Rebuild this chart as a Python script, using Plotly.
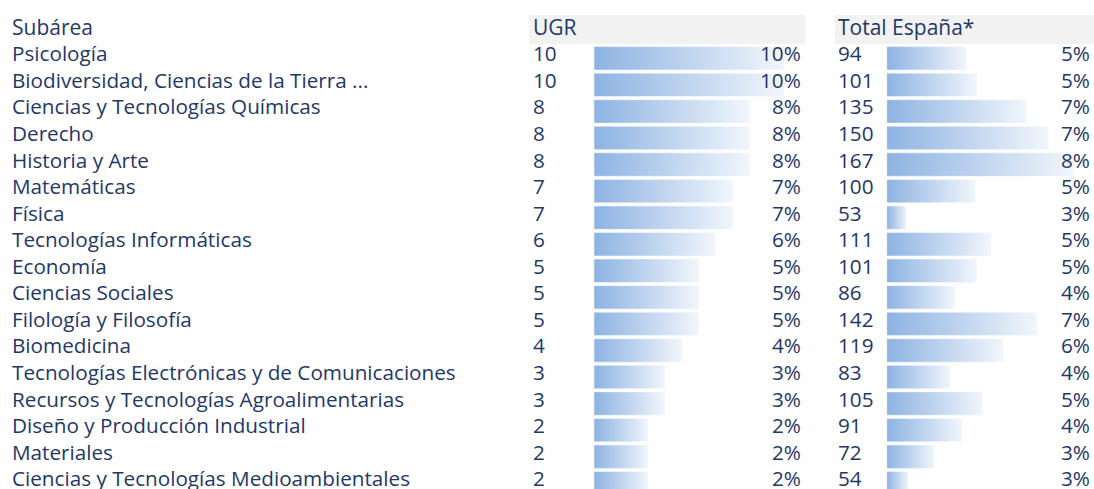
import plotly.graph_objects as go

subareas = [
    "Psicología", "Biodiversidad, Ciencias de la Tierra ...", "Ciencias y Tecnologías Químicas",
    "Derecho", "Historia y Arte", "Matemáticas", "Física", "Tecnologías Informáticas",
    "Economía", "Ciencias Sociales", "Filología y Filosofía", "Biomedicina",
    "Tecnologías Electrónicas y de Comunicaciones", "Recursos y Tecnologías Agroalimentarias",
    "Diseño y Producción Industrial", "Materiales", "Ciencias y Tecnologías Medioambientales",
]
ugr_n = [10, 10, 8, 8, 8, 7, 7, 6, 5, 5, 5, 4, 3, 3, 2, 2, 2]
ugr_pct = [10, 10, 8, 8, 8, 7, 7, 6, 5, 5, 5, 4, 3, 3, 2, 2, 2]
esp_n = [94, 101, 135, 150, 167, 100, 53, 111, 101, 86, 142, 119, 83, 105, 91, 72, 54]
esp_pct = [5, 5, 7, 7, 8, 5, 3, 5, 5, 4, 7, 6, 4, 5, 4, 3, 3]

W, H = 1094, 489
TXT = "#1f3868"
FONT = "Open Sans"
FS = 20.7
GRAD = [[0, "#8db3e2"], [1, "#f2f6fc"]]
UGR_MIN, UGR_PX = -1.18, 17.0      # data-bar scale of each column
ESP_MIN, ESP_PX = 39.3, 1.463
HALF = 0.44                        # half bar height, in rows

fig = go.Figure()

def add_bars(values, lo, xa):
    for i, v in enumerate(values):
        fig.add_trace(go.Scatter(
            x=[lo, v, v, lo, lo], y=[i - HALF, i - HALF, i + HALF, i + HALF, i - HALF],
            xaxis=xa, yaxis="y", mode="lines", line=dict(width=0.6, color="rgba(255,255,255,0.8)"),
            fill="toself", fillgradient=dict(type="horizontal", colorscale=GRAD),
            hoverinfo="skip", showlegend=False))

add_bars(ugr_n, UGR_MIN, "x")
add_bars(esp_n, ESP_MIN, "x2")

ann = []
def txt(x_px, y, s, anchor="left", size=FS, yref="y", shift=5):
    ann.append(dict(x=x_px / W, xref="paper", y=y, yref=yref, text=s, showarrow=False,
                    xanchor=anchor, yanchor="middle", yshift=shift,
                    font=dict(family=FONT, size=size, color=TXT)))

for i, name in enumerate(subareas):
    txt(10, i, name)
    txt(531, i, str(ugr_n[i]))
    txt(803, i, f"{ugr_pct[i]}%", "right")
    txt(836, i, str(esp_n[i]))
    txt(1092, i, f"{esp_pct[i]}%", "right")

head_y = 1 - 29.5 / H
txt(10, head_y, "Subárea", size=21, yref="paper", shift=2)
txt(531, head_y, "UGR", size=21, yref="paper", shift=2)
txt(836, head_y, "Total España*", size=21, yref="paper", shift=2)

shapes = [
    dict(type="rect", xref="paper", yref="paper", x0=529 / W, x1=805 / W,
         y0=1 - 44 / H, y1=1 - 15 / H, fillcolor="#f2f2f2", line_width=0, layer="below"),
    dict(type="rect", xref="paper", yref="paper", x0=835 / W, x1=1,
         y0=1 - 44 / H, y1=1 - 15 / H, fillcolor="#f2f2f2", line_width=0, layer="below"),
]

pitch = 26.56
row0 = 58.3
y_top = -row0 / pitch
y_bot = y_top + H / pitch
ugr_l, ugr_r = 594, 805
esp_l = 886.7

fig.update_layout(
    width=W, height=H, margin=dict(l=0, r=0, t=0, b=0),
    plot_bgcolor="white", paper_bgcolor="white",
    annotations=ann, shapes=shapes,
    xaxis=dict(domain=[ugr_l / W, ugr_r / W], range=[UGR_MIN, UGR_MIN + (ugr_r - ugr_l) / UGR_PX],
               visible=False, fixedrange=True),
    xaxis2=dict(domain=[esp_l / W, 1], range=[ESP_MIN, ESP_MIN + (W - esp_l) / ESP_PX],
                visible=False, fixedrange=True),
    yaxis=dict(domain=[0, 1], range=[y_bot, y_top], visible=False, fixedrange=True),
)

fig.write_html("out.html", config={"displayModeBar": False},
               post_script="document.body.style.margin='0';")
